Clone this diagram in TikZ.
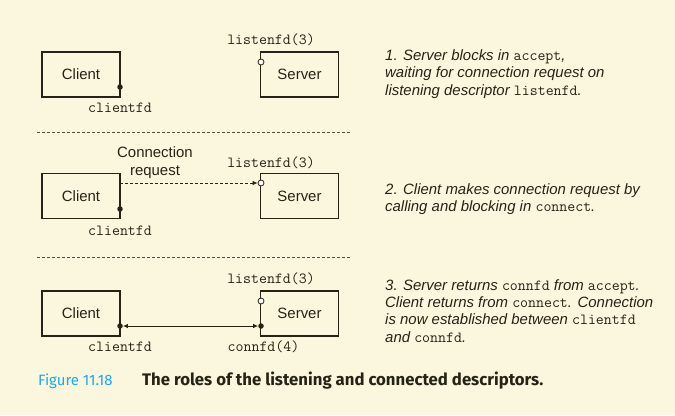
\documentclass[tikz,border=0pt]{standalone}
\usepackage{fontspec}
\setmainfont{Liberation Sans}
\newfontfamily\capfont{Fira Sans}
\usetikzlibrary{arrows.meta}
\definecolor{bg}{RGB}{250,247,222}
\definecolor{ink}{RGB}{38,34,22}
\definecolor{capblue}{RGB}{35,165,228}
\newcommand{\mt}[1]{{\fontsize{15.5}{18}\ttfamily\upshape #1}}
\begin{document}
\begin{tikzpicture}[x=1bp,y=-1bp,
  box/.style={draw=ink, line width=1.8bp, minimum width=78bp, minimum height=45bp, inner sep=0pt, text=ink, font=\fontsize{15}{18}\selectfont},
  mono/.style={inner sep=0pt, text=ink, font=\fontsize{15.5}{18}\ttfamily},
  fdot/.style={circle, fill=ink, inner sep=0pt, minimum size=5.5bp},
  odot/.style={circle, draw=ink, fill=white, line width=0.8bp, inner sep=0pt, minimum size=6bp},
  conn/.style={draw=ink, line width=0.8bp},
  sepline/.style={draw=ink!80, line width=0.7bp, dash pattern=on 3bp off 2bp},
  desc/.style={inner sep=0pt, anchor=north west, align=left, text=ink, font=\fontsize{15}{17.5}\selectfont\itshape},
]
\fill[bg] (0,0) rectangle (675,415);
\useasboundingbox (0,0) rectangle (675,415);

% ---------- panel 1
\node[box] (c1) at (81,74.5) {Client};
\node[box] (s1) at (299.5,74.5) {Server};
\node[fdot] (cd1) at (120,87) {};
\node[odot] (ld1) at (261,62) {};
\node[mono] (lt1) at (271,40) {listenfd(3)};
\node[mono] (ct1) at (120,108) {clientfd};
\node[desc] (d1) at (385,49.5) {1. Server blocks in \mt{accept},\\waiting for connection request on\\listening descriptor \mt{listenfd}.};
\coordinate (sa1) at (37,132);
\coordinate (sb1) at (350,132);
\draw[sepline] (sa1) -- (sb1);

% ---------- panel 2
\node[box] (c2) at (81,196) {Client};
\node[box] (s2) at (299.5,196) {Server};
\node[fdot] (cd2) at (120,209) {};
\node[odot] (ld2) at (261,183) {};
\coordinate (cs2) at (120,183);
\draw[conn, dash pattern=on 3bp off 2bp, -{Latex[length=5bp,width=4.5bp]}] (cs2) -- (ld2);
\node[inner sep=0pt, align=center, text=ink, font=\fontsize{15}{18}\selectfont] (req) at (155,163) {Connection\\request};
\node[mono] (lt2) at (271,163) {listenfd(3)};
\node[mono] (ct2) at (120,231) {clientfd};
\node[desc] (d2) at (385,183.5) {2. Client makes connection request by\\calling and blocking in \mt{connect}.};
\coordinate (sa2) at (37,257);
\coordinate (sb2) at (350,257);
\draw[sepline] (sa2) -- (sb2);

% ---------- panel 3
\node[box] (c3) at (81,313.5) {Client};
\node[box] (s3) at (299.5,313.5) {Server};
\node[odot] (ld3) at (261,301) {};
\node[fdot] (cd3) at (120,326) {};
\node[fdot] (sd3) at (261,326) {};
\draw[conn, {Latex[length=5bp,width=4.5bp]}-{Latex[length=5bp,width=4.5bp]}] (cd3) -- (sd3);
\node[mono] (lt3) at (271,279) {listenfd(3)};
\node[mono] (ct3) at (120,347) {clientfd};
\node[mono] (cf3) at (263.5,347) {connfd(4)};
\node[desc] (d3) at (385,279) {3. Server returns \mt{connfd} from \mt{accept}.\\Client returns from \mt{connect}. Connection\\is now established between \mt{clientfd}\\and \mt{connfd}.};

% ---------- caption
\node[inner sep=0pt, anchor=base west, text=capblue, font=\fontsize{15}{18}\capfont] (fig) at (38,385) {Figure 11.18};
\node[inner sep=0pt, anchor=base west, text=ink, font=\fontsize{16.8}{20}\capfont\bfseries] (cap) at (142,385) {The roles of the listening and connected descriptors.};
\end{tikzpicture}
\end{document}
